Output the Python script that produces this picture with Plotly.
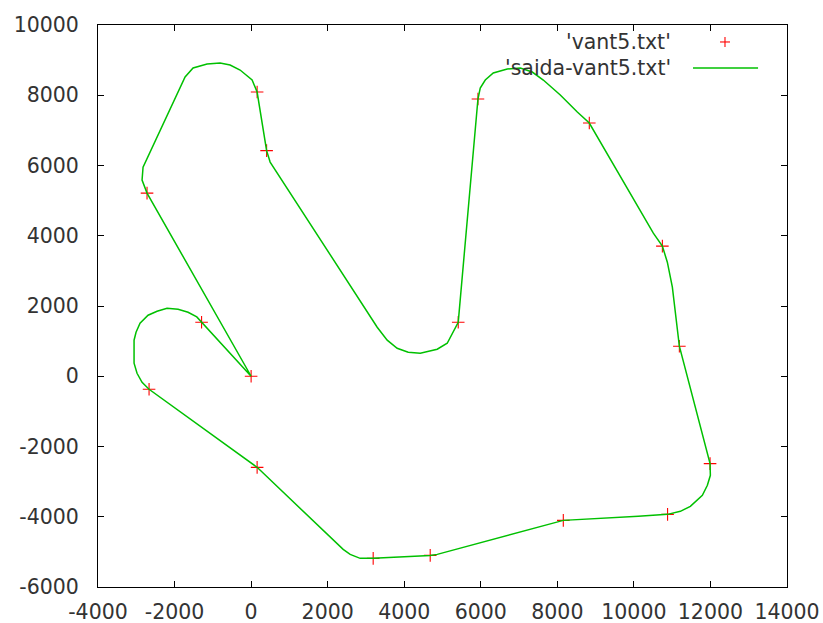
import plotly.graph_objects as go

# waypoints ('vant5.txt')
way_x = [0, -1294, -2666, 157, 3189, 4679, 8156, 10880, 11990, 11188, 10744, 8835, 5926, 5411, 405, 157, -2719]
way_y = [0, 1538, -370, -2593, -5185, -5100, -4103, -3932, -2487, 855, 3704, 7208, 7892, 1538, 6424, 8091, 5214]

# smoothed trajectory ('saida-vant5.txt')
traj_x = [0, -1294, -1419, -1647, -1908, -2196, -2457, -2692, -2902, -3006, -3058, -3058, -2980, -2849,
          -2666, 157, 2405, 2588, 2849, 3189, 3686, 4235, 4679, 4862, 8156, 10116, 10880, 11214, 11475,
          11789, 11920, 11998, 11990, 11188, 11005, 10874, 10744, 10508, 8835, 8522, 8077, 7633, 7345,
          7032, 6692, 6326, 6117, 5986, 5926, 5411, 5280, 5123, 4862, 4418, 4104, 3816, 3555, 3294,
          497, 405, 157, 26, -288, -549, -810, -1150, -1516, -1725, -2823, -2849, -2719, 0]
traj_y = [0, 1538, 1689, 1823, 1909, 1937, 1852, 1738, 1510, 1254, 1026, 370, 85, -171,
          -370, -2593, -4929, -5071, -5185, -5185, -5157, -5128, -5100, -5071, -4103, -3989, -3932, -3846, -3704,
          -3390, -3105, -2821, -2487, 855, 2536, 3248, 3704, 4074, 7208, 7521, 8006, 8433, 8661,
          8775, 8746, 8632, 8433, 8205, 7892, 1538, 1254, 940, 769, 655, 684, 798, 1026, 1396,
          6097, 6424, 8091, 8433, 8718, 8860, 8917, 8889, 8775, 8519, 5954, 5584, 5214, 0]

x_ticks = [-4000, -2000, 0, 2000, 4000, 6000, 8000, 10000, 12000, 14000]
y_ticks = [-6000, -4000, -2000, 0, 2000, 4000, 6000, 8000, 10000]
legend_labels = ["'vant5.txt'", "'saida-vant5.txt'"]

FONT = dict(family="DejaVu Sans", size=20.5, color="#333333")
RED = "#ff0000"
GREEN = "#00c000"

fig = go.Figure()
fig.add_trace(go.Scatter(x=way_x, y=way_y, mode="markers", name=legend_labels[0],
                         marker=dict(symbol="cross-thin", size=9, line=dict(color=RED, width=1.1)),
                         showlegend=False))
fig.add_trace(go.Scatter(x=traj_x, y=traj_y, mode="lines", name=legend_labels[1],
                         line=dict(color=GREEN, width=1.5), showlegend=False))

axis_common = dict(showgrid=False, zeroline=False, showline=True, linecolor="black", linewidth=1,
                   mirror="ticks", ticks="inside", ticklen=6, tickwidth=1, tickcolor="black",
                   tickfont=FONT, automargin=False)
fig.update_xaxes(range=[-4000, 14000], tickvals=x_ticks, ticktext=[str(v) for v in x_ticks],
                 ticklabelstandoff=6, **axis_common)
fig.update_yaxes(range=[-6000, 10000], tickvals=y_ticks, ticktext=[str(v) for v in y_ticks],
                 ticklabelstandoff=14, **axis_common)

# manual gnuplot-style legend (text right-aligned, sample to the right)
fig.add_annotation(xref="paper", yref="paper", x=0.8345, y=0.9698, text=legend_labels[0],
                   showarrow=False, xanchor="right", yanchor="middle", font=FONT)
fig.add_annotation(xref="paper", yref="paper", x=0.8345, y=0.9235, text=legend_labels[1],
                   showarrow=False, xanchor="right", yanchor="middle", font=FONT)
fig.add_shape(type="line", xref="paper", yref="paper", x0=0.9028, x1=0.9173, y0=0.9698, y1=0.9698,
              line=dict(color=RED, width=1.1))
fig.add_shape(type="line", xref="paper", yref="paper", x0=0.9100, x1=0.9100, y0=0.9609, y1=0.9786,
              line=dict(color=RED, width=1.1))
fig.add_shape(type="line", xref="paper", yref="paper", x0=0.8636, x1=0.958, y0=0.9235, y1=0.9235,
              line=dict(color=GREEN, width=1.5))

fig.update_layout(width=823, height=623, margin=dict(l=98, r=36, t=25, b=36),
                  plot_bgcolor="white", paper_bgcolor="white", font=FONT)

fig.write_html("out.html")
